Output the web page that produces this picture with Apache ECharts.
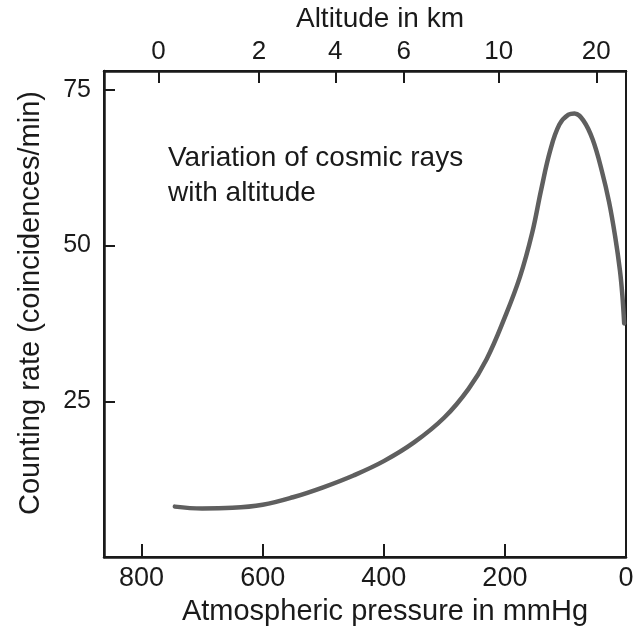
<!DOCTYPE html>
<html>
<head>
<meta charset="utf-8">
<script src="https://cdn.jsdelivr.net/npm/echarts@6/dist/echarts.min.js"></script>
<style>
  html, body { margin: 0; padding: 0; background: #fff; }
  #main { width: 639px; height: 631px; }
</style>
</head>
<body>
<div id="main"></div>
<script>
var chart = echarts.init(document.getElementById('main'));

// curve: pressure (mmHg) -> counting rate
var pressure = [745, 700, 650, 600, 550, 500, 450, 400, 350, 300, 260, 230, 200, 175, 155, 140, 125, 110, 95, 85, 70, 55, 40, 28, 18, 10, 6, 3];
var rate = [8.1, 7.8, 7.9, 8.4, 9.6, 11.2, 13.1, 15.4, 18.4, 22.4, 27.0, 31.8, 38.5, 45.0, 52.0, 59.0, 65.3, 69.4, 71.0, 71.2, 70.0, 67.0, 62.0, 57.0, 51.5, 46.0, 42.0, 37.5];

var pressureTicks = [0, 200, 400, 600, 800];
var rateTicks = [25, 50, 75];
// top axis: altitude labels placed at their pressure
var altitudeKm = [0, 2, 4, 6, 10, 20];
var altitudePressure = [772, 606, 480, 367, 210, 49];

var points = pressure.map(function (p, i) { return [p, rate[i]]; });

var font = 'Liberation Sans, Arial, Helvetica, sans-serif';
var ink = '#1a1a1a';

option = {
    animation: false,
    grid: {
        left: 104,
        right: 13,
        top: 71,
        bottom: 69,
        show: true,
        borderColor: ink,
        borderWidth: 2
    },
    textStyle: { fontFamily: font },
    xAxis: [{
        type: 'value',
        position: 'bottom',
        min: 0,
        max: 862,
        inverse: true,
        name: 'Atmospheric pressure in mmHg',
        nameLocation: 'middle',
        nameGap: 35,
        nameTextStyle: { fontSize: 29, color: ink, fontFamily: font, padding: [0, 0, 0, 40] },
        axisLine: { onZero: false, lineStyle: { color: ink, width: 2.5 } },
        axisTick: { inside: true, length: 13, lineStyle: { color: ink, width: 2 }, customValues: pressureTicks },
        axisLabel: { fontSize: 27, color: ink, margin: 8, customValues: pressureTicks },
        splitLine: { show: false }
    }, {
        type: 'value',
        position: 'top',
        min: 0,
        max: 862,
        inverse: true,
        name: 'Altitude in km',
        nameLocation: 'middle',
        nameGap: 38,
        nameTextStyle: { fontSize: 28, color: ink, fontFamily: font, padding: [0, 0, 0, 30] },
        axisLine: { onZero: false, lineStyle: { color: ink, width: 2.5 } },
        axisTick: { inside: true, length: 12, lineStyle: { color: ink, width: 2 }, customValues: altitudePressure },
        axisLabel: {
            fontSize: 26,
            color: ink,
            margin: 6,
            customValues: altitudePressure,
            formatter: function (v) {
                var i = altitudePressure.indexOf(v);
                return i >= 0 ? String(altitudeKm[i]) : '';
            }
        },
        splitLine: { show: false }
    }],
    yAxis: {
        type: 'value',
        min: 0,
        max: 78,
        name: 'Counting rate (coincidences/min)',
        nameLocation: 'middle',
        nameGap: 59,
        nameTextStyle: { fontSize: 29, color: ink, fontFamily: font, padding: [0, 0, 0, 22] },
        axisLine: { show: true, onZero: false, lineStyle: { color: ink, width: 2.5 } },
        axisTick: { inside: true, length: 11, lineStyle: { color: ink, width: 2 }, customValues: rateTicks },
        axisLabel: { fontSize: 25, color: ink, margin: 13, customValues: rateTicks },
        splitLine: { show: false }
    },
    graphic: [{
        type: 'text',
        left: 168,
        top: 141,
        style: {
            text: 'Variation of cosmic rays\nwith altitude',
            fontSize: 28,
            lineHeight: 35,
            fontFamily: font,
            fill: ink
        }
    }],
    series: [{
        type: 'line',
        xAxisIndex: 0,
        data: points,
        smooth: 0.4,
        showSymbol: false,
        lineStyle: { color: '#5f5f5f', width: 4.5, cap: 'round' }
    }]
};

chart.setOption(option);
</script>
</body>
</html>
